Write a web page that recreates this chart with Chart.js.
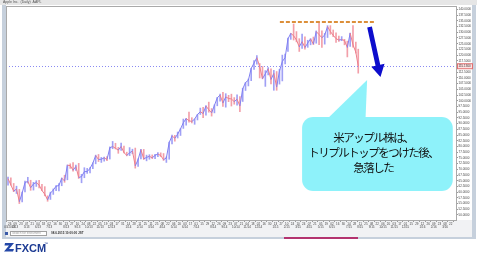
<!DOCTYPE html>
<html><head><meta charset="utf-8">
<script src="https://cdn.jsdelivr.net/npm/chart.js@4.4.0/dist/chart.umd.min.js"></script>
<style>html,body{margin:0;padding:0;background:#fff;overflow:hidden}canvas{display:block}</style>
</head><body>
<canvas id="c" width="477" height="255" style="width:477px;height:255px"></canvas>
<script>
// ---- data (weekly, AAPL) ----
const weekDates = [
"2013-03-22","2013-03-29","2013-04-05","2013-04-12","2013-04-19","2013-04-26","2013-05-03","2013-05-10","2013-05-17","2013-05-24","2013-05-31","2013-06-07","2013-06-14","2013-06-21","2013-06-28","2013-07-05","2013-07-12","2013-07-19","2013-07-26","2013-08-02","2013-08-09","2013-08-16","2013-08-23","2013-08-30","2013-09-06","2013-09-13","2013-09-20","2013-09-27","2013-10-04","2013-10-11","2013-10-18","2013-10-25","2013-11-01","2013-11-08","2013-11-15","2013-11-22","2013-11-29","2013-12-06","2013-12-13","2013-12-20","2013-12-27",
"2014-01-03","2014-01-10","2014-01-17","2014-01-24","2014-01-31","2014-02-07","2014-02-14","2014-02-21","2014-02-28","2014-03-07","2014-03-14","2014-03-21","2014-03-28","2014-04-04","2014-04-11","2014-04-18","2014-04-25","2014-05-02","2014-05-09","2014-05-16","2014-05-23","2014-05-30","2014-06-06","2014-06-13","2014-06-20","2014-06-27","2014-07-04","2014-07-11","2014-07-18","2014-07-25","2014-08-01","2014-08-08","2014-08-15","2014-08-22","2014-08-29","2014-09-05","2014-09-12","2014-09-19","2014-09-26","2014-10-03","2014-10-10","2014-10-17","2014-10-24","2014-10-31","2014-11-07","2014-11-14","2014-11-21","2014-11-28","2014-12-05","2014-12-12","2014-12-19","2014-12-26",
"2015-01-02","2015-01-09","2015-01-16","2015-01-23","2015-01-30","2015-02-06","2015-02-13","2015-02-20","2015-02-27","2015-03-06","2015-03-13","2015-03-20","2015-03-27","2015-04-03","2015-04-10","2015-04-17","2015-04-24","2015-05-01","2015-05-08","2015-05-15","2015-05-22","2015-05-29","2015-06-05","2015-06-12","2015-06-19","2015-06-26","2015-07-03","2015-07-10","2015-07-17","2015-07-24","2015-07-31","2015-08-06"];
const closes = [
65.9,63.2,60.4,61.4,55.8,59.6,64.2,64.7,61.9,63.6,64.2,63.1,60.7,59.1,56.6,59.6,60.9,62.6,62.9,66.1,64.9,71.8,71.6,69.6,71.2,66.4,66.8,69.0,69.0,70.4,72.7,76.0,74.3,74.4,75.0,74.3,79.4,80.0,79.2,78.4,80.0,
77.3,76.1,77.2,78.0,71.5,74.2,78.6,74.6,75.2,75.7,75.0,76.1,76.7,76.0,74.2,75.0,81.7,84.6,83.6,85.4,87.7,90.4,92.2,91.3,90.9,92.0,94.0,95.2,94.4,97.7,96.1,94.7,98.0,101.3,102.5,99.0,101.7,101.0,100.8,99.6,100.7,97.7,105.2,108.0,109.0,114.2,116.5,118.9,115.0,109.7,111.8,114.0,
109.3,112.0,106.0,113.0,117.2,118.9,127.1,129.5,128.5,126.6,123.6,125.9,123.3,125.3,127.1,124.8,130.3,129.0,127.6,128.8,132.5,130.3,128.7,127.2,126.6,126.8,126.4,123.3,129.6,124.5,121.3,115.1];
const highs = [
66.6,66.3,63.8,62.6,61.2,60.0,64.8,66.5,65.2,64.3,65.0,65.2,63.4,62.4,58.4,60.0,61.4,62.9,63.7,66.2,67.4,71.9,72.4,72.9,71.8,72.6,67.8,70.7,70.4,70.8,72.8,76.2,76.5,75.2,75.3,75.6,79.8,82.2,81.4,79.6,81.5,
80.2,77.5,79.5,78.8,79.3,74.6,78.7,78.7,76.2,76.4,76.3,76.6,77.3,77.2,76.9,75.4,81.9,85.0,84.9,86.3,87.8,92.0,92.3,95.1,92.6,92.0,94.1,96.8,97.1,97.9,99.4,96.6,98.2,101.5,102.9,103.7,103.1,102.4,102.9,101.4,102.6,101.8,105.5,108.0,109.5,114.2,117.6,119.8,116.3,115.0,113.2,114.5,
114.0,113.3,112.8,113.8,120.0,120.5,127.5,129.5,133.6,130.3,127.2,129.2,128.0,126.5,127.2,127.9,130.6,134.5,130.6,129.5,132.9,132.9,131.0,129.7,128.3,128.1,126.9,126.1,129.6,132.9,125.7,122.6];
const lows = [
63.0,63.0,60.2,59.4,55.0,55.7,60.1,64.0,60.8,60.9,62.5,61.8,60.6,58.4,56.0,56.8,59.0,60.6,60.5,62.8,64.3,65.4,70.4,69.2,69.5,66.0,64.1,66.3,68.2,68.4,70.3,72.4,73.4,73.0,73.6,73.8,74.5,79.0,78.9,77.0,78.3,
77.2,75.9,76.0,76.8,70.5,71.3,74.5,74.3,73.7,74.4,74.7,74.6,75.5,75.6,73.9,73.0,74.4,81.1,82.3,83.7,84.8,87.9,89.3,90.6,90.3,89.7,91.6,94.0,92.6,93.7,95.0,93.3,94.7,97.8,99.8,97.5,97.2,99.6,97.7,98.5,98.1,95.2,99.7,104.5,106.5,108.8,113.7,116.0,110.0,109.6,106.3,111.3,
107.4,104.6,104.6,107.3,108.7,116.1,121.6,126.9,126.6,125.8,121.6,122.9,122.6,123.4,124.5,124.6,125.2,124.6,123.4,124.8,127.7,129.1,128.1,125.6,126.0,126.3,124.5,119.2,123.8,123.5,120.9,112.1];
const yTicks = [50,52.5,55,57.5,60,62.5,65,67.5,70,72.5,75,77.5,80,82.5,85,87.5,90,92.5,95,97.5,100,102.5,105,107.5,110,112.5,115,117.5,120,122.5,125,127.5,130,132.5,135,137.5,140];
const currentPrice = 115.13;
const tripleTopLevel = 134.5;
const tripleTopFrom = "2015-01-24", tripleTopTo = "2015-09-16";
const arrowFrom = {date:"2015-09-03", price:132.3}, arrowTo = {date:"2015-09-30", price:110.4};
const callout = {from:"2015-03-20", to:"2016-03-27", top:92.9, bottom:60.5, tip:{date:"2015-08-28", price:109.1}, baseFrom:"2015-05-21", baseTo:"2015-08-24", textDate:"2015-09-12"};
const calloutLines = ["米アップル株は、","トリプルトップをつけた後、","急落した"];
const titleText = "Apple Inc.  (Daily)  AAPL";
const statusSearch = "Search for instrument";
const statusTime = "08.6.2015 10:00:00 JST";
const logoText = "FXCM";
const axisStart = "2013-03-17", axisEnd = "2016-04-04";
const xTickStart = "2013-03-26", xTickStep = 14;

// ---- helpers ----
const DAY = 86400000;
const dayOf = s => (Date.parse(s) - Date.parse(axisStart)) / DAY;
const xMax = dayOf(axisEnd);
const xTickDays = [];
for (let d = dayOf(xTickStart); d <= xMax - 4; d += xTickStep) xTickDays.push(d);
const pad2 = n => (n < 10 ? "0" : "") + n;
const dateAt = d => new Date(Date.parse(axisStart) + d * DAY);

const UP = "#8080f2", DOWN = "#ee7f8c";
const UPBAR = "rgba(128,128,242,0.75)", DOWNBAR = "rgba(238,127,140,0.75)";
const dir = i => i === 0 || closes[i] >= closes[i-1];
const linePts = weekDates.map((d,i) => ({x: dayOf(d), y: closes[i]}));
const barPts = weekDates.map((d,i) => ({x: dayOf(d), y: [lows[i], highs[i]]}));

const deco = {
  id: "deco",
  beforeDraw(chart) {
    const {ctx, chartArea: a} = chart;
    ctx.save();
    ctx.fillStyle = "#fff"; ctx.fillRect(0,0,477,255);
    ctx.fillStyle = "#e6e6e6"; ctx.fillRect(0,0,477,5);
    ctx.fillStyle = "#555"; ctx.font = "3.5px Arial"; ctx.textBaseline = "middle";
    ctx.fillText(titleText, 3, 2.5);
    ctx.fillStyle = "#f1f2f4"; ctx.fillRect(a.left, a.bottom, 473 - a.left, 238 - a.bottom);
    ctx.fillStyle = "#c6d0dc"; ctx.fillRect(2,5,4,234); ctx.fillRect(472,5,4,234); ctx.fillRect(2,237,474,2);
    ctx.restore();
  },
  afterDatasetsDraw(chart) {
    const {ctx, chartArea: a, scales: {x, y}} = chart;
    ctx.save();
    const yp = y.getPixelForValue(currentPrice);
    ctx.strokeStyle = "#8a8af2"; ctx.lineWidth = 1; ctx.setLineDash([1,2]);
    ctx.beginPath(); ctx.moveTo(a.left, Math.round(yp)+0.5); ctx.lineTo(a.right, Math.round(yp)+0.5); ctx.stroke();
    const yt = y.getPixelForValue(tripleTopLevel);
    ctx.strokeStyle = "#dc8f3a"; ctx.lineWidth = 2; ctx.setLineDash([4,2]);
    ctx.beginPath(); ctx.moveTo(x.getPixelForValue(dayOf(tripleTopFrom)), yt); ctx.lineTo(x.getPixelForValue(dayOf(tripleTopTo)), yt); ctx.stroke();
    ctx.setLineDash([]);
    const x0 = x.getPixelForValue(dayOf(arrowFrom.date)), y0 = y.getPixelForValue(arrowFrom.price);
    const x1 = x.getPixelForValue(dayOf(arrowTo.date)), y1 = y.getPixelForValue(arrowTo.price);
    const len = Math.hypot(x1-x0, y1-y0), ang = Math.atan2(y1-y0, x1-x0);
    ctx.save(); ctx.translate(x0,y0); ctx.rotate(ang);
    ctx.fillStyle = "#0d0dcc";
    ctx.beginPath();
    ctx.moveTo(0,-2.4); ctx.lineTo(len-12,-2.4); ctx.lineTo(len-12,-6.8); ctx.lineTo(len,0);
    ctx.lineTo(len-12,6.8); ctx.lineTo(len-12,2.4); ctx.lineTo(0,2.4); ctx.closePath(); ctx.fill();
    ctx.restore();
    const L = x.getPixelForValue(dayOf(callout.from)), R = x.getPixelForValue(dayOf(callout.to));
    const T = y.getPixelForValue(callout.top), B = y.getPixelForValue(callout.bottom);
    ctx.fillStyle = "#8ef2fa";
    ctx.beginPath(); ctx.roundRect(L, T, R-L, B-T, 11); ctx.fill();
    ctx.beginPath();
    ctx.moveTo(x.getPixelForValue(dayOf(callout.baseFrom)), T+2);
    ctx.lineTo(x.getPixelForValue(dayOf(callout.tip.date)), y.getPixelForValue(callout.tip.price));
    ctx.lineTo(x.getPixelForValue(dayOf(callout.baseTo)), T+2);
    ctx.closePath(); ctx.fill();
    ctx.fillStyle = "#111";
    ctx.font = '11.5px "Noto Sans CJK JP"';
    ctx.letterSpacing = "-1.5px";
    ctx.textAlign = "center"; ctx.textBaseline = "middle";
    const tx = x.getPixelForValue(dayOf(callout.textDate));
    calloutLines.forEach((s,i) => ctx.fillText(s, tx, T + 20.5 + i*15.3));
    ctx.letterSpacing = "0px";
    ctx.restore();
  },
  afterDraw(chart) {
    const {ctx, chartArea: a, scales: {y}} = chart;
    ctx.save();
    ctx.strokeStyle = "#a9a9a9"; ctx.lineWidth = 1;
    ctx.strokeRect(a.left+0.5, a.top+0.5, a.right-a.left, a.bottom-a.top);
    const yp = y.getPixelForValue(currentPrice);
    ctx.fillStyle = "#ffe1e1"; ctx.strokeStyle = "#e07070";
    ctx.fillRect(a.right+1.5, yp-2.5, 15, 5); ctx.strokeRect(a.right+1.5, yp-2.5, 15, 5);
    ctx.fillStyle = "#333"; ctx.font = "3px Arial"; ctx.textBaseline = "middle"; ctx.textAlign = "left";
    ctx.fillText(currentPrice.toFixed(4), a.right+2.5, yp);
    ctx.fillStyle = "#3a5aa8"; ctx.fillRect(5,232,3,3);
    ctx.fillStyle = "#fff"; ctx.fillRect(10,231,37,5);
    ctx.strokeStyle = "#a0a0a0"; ctx.strokeRect(10.5,231.5,36,4);
    ctx.fillStyle = "#999"; ctx.font = "3px Arial"; ctx.fillText(statusSearch, 12, 233.6);
    ctx.fillStyle = "#333"; ctx.font = "bold 3px Arial"; ctx.fillText(statusTime, 51, 233.6);
    ctx.fillStyle = "#b3336f"; ctx.fillRect(284,237,74,2);
    ctx.fillStyle = "#2448a8";
    ctx.beginPath();
    ctx.moveTo(5,243); ctx.lineTo(14,243); ctx.lineTo(9,249); ctx.lineTo(14,249); ctx.lineTo(13,251.5);
    ctx.lineTo(4,251.5); ctx.lineTo(9,245.5); ctx.lineTo(4.5,245.5); ctx.closePath(); ctx.fill();
    ctx.fillStyle = "#1d3b93"; ctx.font = "bold 11px Arial"; ctx.textBaseline = "alphabetic";
    ctx.fillText(logoText, 15, 252);
    ctx.font = "4px Arial"; ctx.fillText("™", 44, 245);
    ctx.restore();
  }
};

new Chart(document.getElementById("c"), {
  type: "line",
  data: {
    datasets: [
      {type: "bar", data: barPts, barThickness: 1, order: 2,
       backgroundColor: c => dir(c.dataIndex) ? UPBAR : DOWNBAR, borderWidth: 0},
      {type: "line", data: linePts, order: 1, borderWidth: 1, pointRadius: 0, tension: 0,
       borderColor: UP, segment: {borderColor: c => c.p1.parsed.y >= c.p0.parsed.y ? UP : DOWN}}
    ]
  },
  options: {
    responsive: false, animation: false, devicePixelRatio: 1,
    layout: {padding: {left: 6, top: 6, right: 4, bottom: 23}},
    plugins: {legend: {display: false}, tooltip: {enabled: false}},
    scales: {
      x: {type: "linear", min: 0, max: xMax, offset: false,
        border: {display: false},
        grid: {drawOnChartArea: false, tickLength: 2, color: "#999"},
        ticks: {autoSkip: false, maxRotation: 0, minRotation: 0, padding: 0, color: "#444",
          font: {size: 3, family: "Arial"},
          callback: (v, i) => {
            const dt = dateAt(v), dd = pad2(dt.getUTCDate());
            const prev = i > 0 ? dateAt(xTickDays[i-1]) : null;
            if (!prev) return [dd, pad2(dt.getUTCMonth()+1) + "/" + dt.getUTCFullYear()];
            if (prev.getUTCMonth() !== dt.getUTCMonth()) return [dd, (dt.getUTCMonth()+1) + "/" + pad2(dt.getUTCFullYear()%100)];
            return [dd, ""];
          }},
        afterBuildTicks: ax => { ax.ticks = xTickDays.map(v => ({value: v})); },
        afterFit: ax => { ax.height = 12; }
      },
      y: {position: "right", min: 47.8, max: 141.5,
        border: {display: false},
        grid: {drawOnChartArea: false, tickLength: 2, color: "#999"},
        ticks: {autoSkip: false, padding: 0.5, color: "#444", font: {size: 3, family: "Arial"},
          callback: v => v.toFixed(4)},
        afterBuildTicks: ax => { ax.ticks = yTicks.map(v => ({value: v})); },
        afterFit: ax => { ax.width = 17; }
      }
    }
  },
  plugins: [deco]
});
</script>
</body></html>
